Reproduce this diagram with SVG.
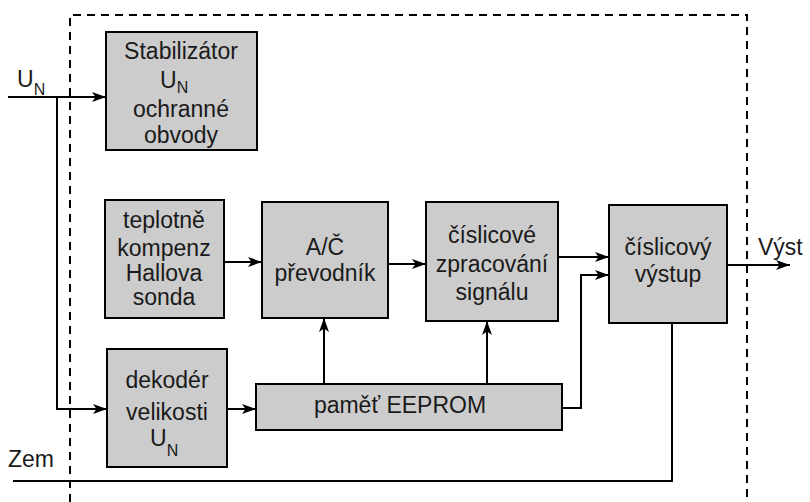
<svg xmlns="http://www.w3.org/2000/svg" width="810" height="502" viewBox="0 0 810 502">
  <defs>
    <marker id="arr" viewBox="0 0 14 10" refX="14" refY="5" markerWidth="14" markerHeight="10" markerUnits="userSpaceOnUse" orient="auto">
      <path d="M0,0 L14,5 L0,10 L3.5,5 Z" fill="#000"/>
    </marker>
    <style>
      .box { fill: #cccccc; stroke: #000; stroke-width: 2; }
      .wire { fill: none; stroke: #000; stroke-width: 2; }
      .frame { fill: none; stroke: #000; stroke-width: 2; stroke-dasharray: 8 6; }
      text { font-family: "Liberation Sans", Arial, sans-serif; font-size: 23px; fill: #1a1a1a; }
      .c { text-anchor: middle; }
      .sub { font-size: 16px; }
    </style>
  </defs>

  <rect width="810" height="502" fill="#fff"/>

  <!-- dashed sensor outline -->
  <path class="frame" d="M70,502 V15 H747 V502"/>

  <!-- connectors -->
  <g id="connectors">
    <path class="wire" d="M8,97 H106" marker-end="url(#arr)"/>
    <path class="wire" d="M57,97 V409 H107" marker-end="url(#arr)"/>
    <path class="wire" d="M224,262 H262" marker-end="url(#arr)"/>
    <path class="wire" d="M388,264 H426" marker-end="url(#arr)"/>
    <path class="wire" d="M558,257 H609" marker-end="url(#arr)"/>
    <path class="wire" d="M562,408 H581 V275 H609" marker-end="url(#arr)"/>
    <path class="wire" d="M227,409 H256" marker-end="url(#arr)"/>
    <path class="wire" d="M324,384 V318" marker-end="url(#arr)"/>
    <path class="wire" d="M487,384 V321" marker-end="url(#arr)"/>
    <path class="wire" d="M727,265 H790" marker-end="url(#arr)"/>
    <path class="wire" d="M13,481 H672 V323"/>
  </g>

  <!-- external labels -->
  <text x="17" y="87">U<tspan class="sub" dy="8">N</tspan></text>
  <text x="758" y="255">Výst</text>
  <text x="8" y="467">Zem</text>

  <g id="stabilizator">
    <rect class="box" x="106" y="32" width="151" height="118"/>
    <text class="c" x="181" y="59">Stabilizátor</text>
    <text x="160" y="88">U<tspan class="sub" dy="5">N</tspan></text>
    <text class="c" x="181" y="117">ochranné</text>
    <text class="c" x="181" y="143">obvody</text>
  </g>

  <g id="hallova-sonda">
    <rect class="box" x="105" y="200" width="119" height="118"/>
    <text class="c" x="164" y="228">teplotně</text>
    <text class="c" x="164" y="256">kompenz</text>
    <text class="c" x="164" y="281">Hallova</text>
    <text class="c" x="164" y="305">sonda</text>
  </g>

  <g id="ad-prevodnik">
    <rect class="box" x="262" y="202" width="126" height="116"/>
    <text class="c" x="325" y="255">A/Č</text>
    <text class="c" x="325" y="281">převodník</text>
  </g>

  <g id="zpracovani">
    <rect class="box" x="426" y="202" width="132" height="119"/>
    <text class="c" x="492" y="243">číslicové</text>
    <text class="c" x="492" y="272">zpracování</text>
    <text class="c" x="492" y="300">signálu</text>
  </g>

  <g id="vystup">
    <rect class="box" x="609" y="205" width="118" height="118"/>
    <text class="c" x="668" y="255">číslicový</text>
    <text class="c" x="668" y="282">výstup</text>
  </g>

  <g id="dekoder">
    <rect class="box" x="107" y="349" width="120" height="118"/>
    <text class="c" x="167" y="388">dekodér</text>
    <text class="c" x="167" y="420">velikosti</text>
    <text x="150" y="446">U<tspan class="sub" dy="10">N</tspan></text>
  </g>

  <g id="eeprom">
    <rect class="box" x="256" y="384" width="306" height="46"/>
    <text class="c" x="400" y="413">paměť EEPROM</text>
  </g>
</svg>
